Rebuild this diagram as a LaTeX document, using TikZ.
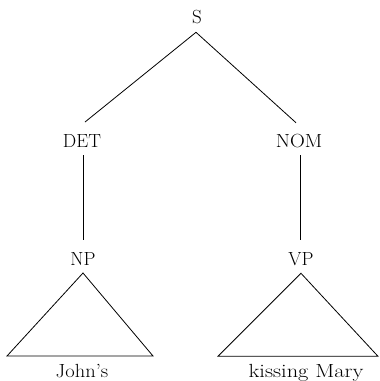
\documentclass[tikz,border=0pt]{standalone}
\usepackage{graphicx}
\begin{document}
\begin{tikzpicture}[x=1pt,y=-1pt,
  lbl/.style={inner sep=0pt,outer sep=0pt,anchor=base,font=\fontsize{19}{22}\selectfont},
  edge/.style={line width=0.8pt}]
\useasboundingbox (0,0) rectangle (380,381);
\node[lbl] (S) at (197,23) {S};
\node[lbl] (DET) at (82,147) {DET};
\node[lbl] (NOM) at (299,147) {\scalebox{1.08}[1]{NOM}};
\node[lbl] (NP) at (83,265) {NP};
\node[lbl] (VP) at (301,265) {VP};
\node[lbl] (J) at (82,377) {\scalebox{1.08}[1]{John's}};
\node[lbl] (KM) at (306,377) {\scalebox{1.18}[1]{kissing Mary}};
\draw[edge] ([xshift=-1pt,yshift=-9pt]S.south) -- ([xshift=3pt,yshift=12pt]DET.north);
\draw[edge] ([xshift=-1pt,yshift=-9pt]S.south) -- ([xshift=-3pt,yshift=11pt]NOM.north);
\draw[edge] ([xshift=1pt,yshift=-8pt]DET.south) -- ([yshift=12pt]NP.north);
\draw[edge] ([xshift=1pt,yshift=-8pt]NOM.south) -- ([xshift=-1pt,yshift=12pt]VP.north);
\draw[edge,line join=miter] ([yshift=-8pt]NP.south) -- ++(-76,83) -- ++(146,0) -- cycle;
\draw[edge,line join=miter] ([yshift=-8pt]VP.south) -- ++(-83,83) -- ++(160,0) -- cycle;
\end{tikzpicture}
\end{document}
